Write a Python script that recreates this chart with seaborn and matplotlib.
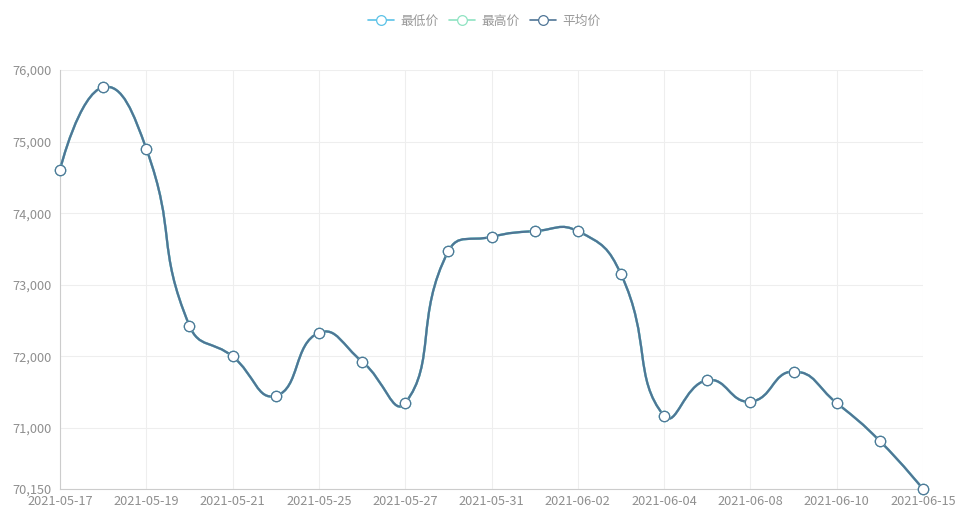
import numpy as np
import pandas as pd
import matplotlib
matplotlib.use("Agg")
import matplotlib.pyplot as plt
from matplotlib.path import Path
from matplotlib.patches import PathPatch
from matplotlib.lines import Line2D
import seaborn as sns

# ---------------- data ----------------
dates = ["2021-05-17", "2021-05-18", "2021-05-19", "2021-05-20", "2021-05-21",
         "2021-05-24", "2021-05-25", "2021-05-26", "2021-05-27", "2021-05-28",
         "2021-05-31", "2021-06-01", "2021-06-02", "2021-06-03", "2021-06-04",
         "2021-06-07", "2021-06-08", "2021-06-09", "2021-06-10", "2021-06-11",
         "2021-06-15"]
low_price = [74610, 75760, 74900, 72430, 72000, 71450, 72330, 71930, 71350, 73470,
             73670, 73750, 73750, 73150, 71170, 71670, 71370, 71790, 71350, 70820, 70150]
high_price = [74610, 75760, 74900, 72430, 72000, 71450, 72330, 71930, 71350, 73470,
              73670, 73750, 73750, 73150, 71170, 71670, 71370, 71790, 71350, 70820, 70150]
avg_price = [74610, 75760, 74900, 72430, 72000, 71450, 72330, 71930, 71350, 73470,
             73670, 73750, 73750, 73150, 71170, 71670, 71370, 71790, 71350, 70820, 70150]
y_ticks = [70150, 71000, 72000, 73000, 74000, 75000, 76000]

series = [("最低价", low_price, "#5bc2e7"),
          ("最高价", high_price, "#8fe3c2"),
          ("平均价", avg_price, "#4f7596")]

sns.set_style("white")
plt.rcParams["font.family"] = ["Noto Sans CJK SC", "DejaVu Sans"]

W, H = 969, 509
fig = plt.figure(figsize=(W / 100, H / 100), dpi=100)
ax = fig.add_axes([60 / W, 20 / H, 863 / W, 419 / H])

pos = np.arange(len(dates))
ax.set_xlim(0, len(dates) - 1)
ax.set_ylim(y_ticks[0], y_ticks[-1])


# echarts-like smooth bezier through the points (computed in pixel space)
def smooth_path(xs, ys, sx, sy, smooth=0.5):
    px = np.asarray(xs, float) * sx
    py = np.asarray(ys, float) * sy
    n = len(px)
    cin = np.zeros((n, 2))
    cout = np.zeros((n, 2))
    for i in range(n):
        if i == 0 or i == n - 1:
            cin[i] = cout[i] = (px[i], py[i])
            continue
        vx = (px[i + 1] - px[i - 1]) * smooth
        vy = (py[i + 1] - py[i - 1]) * smooth
        d0 = np.hypot(px[i] - px[i - 1], py[i] - py[i - 1])
        d1 = np.hypot(px[i + 1] - px[i], py[i + 1] - py[i])
        r0 = d0 / (d0 + d1)
        r1 = d1 / (d0 + d1)
        cin[i] = (px[i] - vx * r0, py[i] - vy * r0)
        cout[i] = (px[i] + vx * r1, py[i] + vy * r1)
    verts = [(px[0], py[0])]
    codes = [Path.MOVETO]
    for i in range(n - 1):
        verts += [tuple(cout[i]), tuple(cin[i + 1]), (px[i + 1], py[i + 1])]
        codes += [Path.CURVE4] * 3
    verts = np.array(verts)
    verts[:, 0] /= sx
    verts[:, 1] /= sy
    return Path(verts, codes)


sx = 863 / (len(dates) - 1)
sy = 419 / (y_ticks[-1] - y_ticks[0])

for name, vals, color in series:
    ax.add_patch(PathPatch(smooth_path(pos, vals, sx, sy), facecolor="none",
                           edgecolor=color, lw=1.6, zorder=3, clip_on=False))

for name, vals, color in series:
    df = pd.DataFrame({"pos": pos, "price": vals})
    sns.scatterplot(data=df, x="pos", y="price", ax=ax, s=55, color="white",
                    edgecolor=color, linewidth=0.9, zorder=5, clip_on=False)

# axes styling
ax.set_xticks(pos[::2])
ax.set_xticklabels(dates[::2])
ax.set_yticks(y_ticks)
ax.set_yticklabels([f"{v:,}" for v in y_ticks])
ax.set_xlabel("")
ax.set_ylabel("")
ax.grid(True, color="#eeeeee", lw=0.8)
ax.set_axisbelow(True)
for s in ["top", "right"]:
    ax.spines[s].set_visible(False)
for s in ["left", "bottom"]:
    ax.spines[s].set_color("#cccccc")
    ax.spines[s].set_linewidth(0.8)
ax.tick_params(axis="both", length=0, labelsize=9.2, labelcolor="#8f8f8f")
ax.tick_params(axis="y", pad=6)
ax.tick_params(axis="x", pad=4.5)

handles = [Line2D([], [], color=c, lw=1.2, marker="o", markersize=7,
                  markerfacecolor="white", markeredgecolor=c, markeredgewidth=0.9)
           for _, _, c in series]
fig.legend(handles, [n for n, _, _ in series], loc="upper center",
           bbox_to_anchor=(0.5, 1 - 3 / H), ncol=3, frameon=False,
           fontsize=9.2, labelcolor="#999999", handlelength=2.0,
           handletextpad=0.55, columnspacing=0.8)

fig.savefig("out.png", dpi=100)
